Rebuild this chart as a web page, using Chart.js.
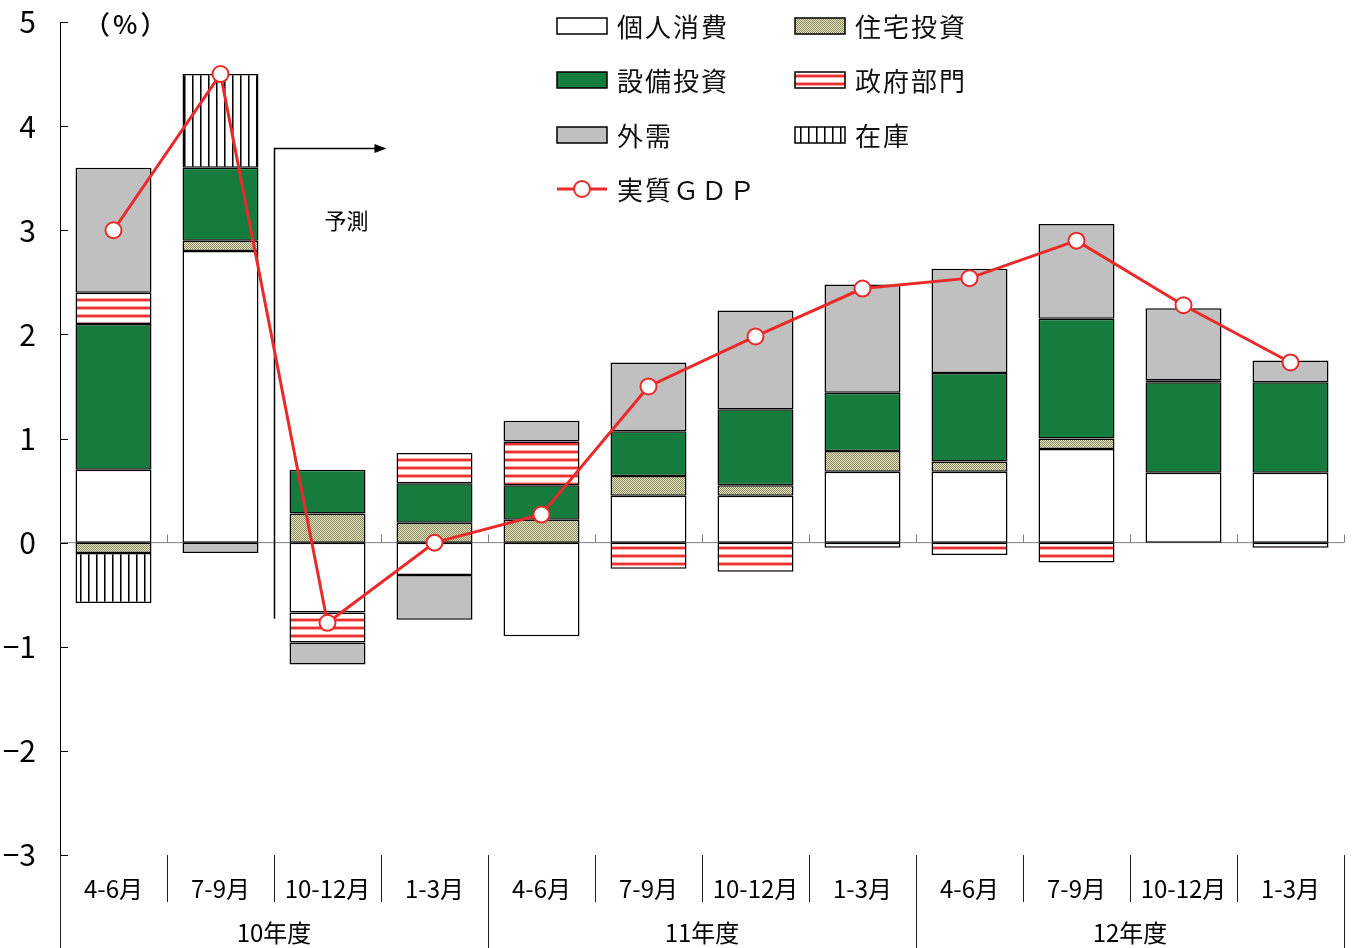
<!DOCTYPE html>
<html>
<head>
<meta charset="utf-8">
<script src="https://cdn.jsdelivr.net/npm/chart.js@4.4.1/dist/chart.umd.min.js"></script>
<style>
  html, body { margin: 0; padding: 0; background: #fff; }
  #wrap { width: 1354px; height: 948px; position: relative; }
</style>
</head>
<body>
<div id="wrap"><canvas id="gdp"></canvas></div>
<script>
    // 四半期と年度
    const quarters = ['4-6月', '7-9月', '10-12月', '1-3月', '4-6月', '7-9月', '10-12月', '1-3月', '4-6月', '7-9月', '10-12月', '1-3月'];
    const fiscalYears = ['10年度', '11年度', '12年度'];
    const yTicks = [-3, -2, -1, 0, 1, 2, 3, 4, 5];

    // 寄与度 (%)
    const consumption = [0.7, 2.8, -0.67, -0.31, -0.9, 0.45, 0.45, 0.68, 0.68, 0.9, 0.67, 0.67];
    const housing     = [-0.1, 0.1, 0.28, 0.19, 0.22, 0.19, 0.1, 0.2, 0.1, 0.1, null, null];
    const equipment   = [1.4, 0.7, 0.42, 0.38, 0.33, 0.43, 0.73, 0.56, 0.85, 1.15, 0.87, 0.87];
    const government  = [0.3, null, -0.29, 0.29, 0.42, -0.25, -0.28, -0.05, -0.12, -0.19, 0.02, -0.05];
    const external    = [1.2, -0.1, -0.21, -0.43, 0.2, 0.66, 0.95, 1.04, 1.0, 0.91, 0.69, 0.21];
    const inventory   = [-0.48, 0.9, null, null, null, null, null, null, null, null, null, null];
    const realGdp     = [3.0, 4.5, -0.77, 0.0, 0.27, 1.5, 1.98, 2.44, 2.54, 2.9, 2.28, 1.73];

    const GREEN = '#157c3e';
    const GRAY = '#c0c0c0';
    const RED = '#ea2a2a';
    const JP = "'Noto Sans CJK JP', sans-serif";
    const NUM = "'Liberation Sans Narrow', 'Noto Sans CJK JP', sans-serif";

    function makePattern(w, h, draw) {
        const c = document.createElement('canvas');
        c.width = w; c.height = h;
        const g = c.getContext('2d');
        draw(g);
        return g.createPattern(c, 'repeat');
    }
    const housingFill = makePattern(2, 2, g => {
        g.fillStyle = '#e0e0c0'; g.fillRect(0, 0, 2, 2);
        g.fillStyle = '#8e8e60'; g.fillRect(0, 0, 1, 1); g.fillRect(1, 1, 1, 1);
    });
    const govFill = makePattern(8, 8, g => {
        g.fillStyle = '#fff'; g.fillRect(0, 0, 8, 8);
        g.fillStyle = '#f6a8a8'; g.fillRect(0, 2, 8, 4);
        g.fillStyle = '#ec3030'; g.fillRect(0, 3, 8, 2);
    });
    const invFill = makePattern(8, 8, g => {
        g.fillStyle = '#fff'; g.fillRect(0, 0, 8, 8);
        g.fillStyle = '#000'; g.fillRect(0, 0, 1, 8);
        g.fillStyle = '#777'; g.fillRect(1, 0, 1, 8);
    });

    function bar(label, data, fill) {
        return {
            label: label, data: data, backgroundColor: fill,
            borderColor: '#000', borderWidth: 1.5, borderSkipped: false,
            stack: 'a', order: 1,
            categoryPercentage: 1, barPercentage: 0.71
        };
    }

    const legendItems = [
        { label: '個人消費', fill: '#fff', col: 0, row: 0 },
        { label: '住宅投資', fill: housingFill, col: 1, row: 0 },
        { label: '設備投資', fill: GREEN, col: 0, row: 1 },
        { label: '政府部門', fill: govFill, col: 1, row: 1 },
        { label: '外需', fill: GRAY, col: 0, row: 2 },
        { label: '在庫', fill: invFill, col: 1, row: 2 }
    ];
    const legendCols = [557, 795];
    const legendRows = [26, 80, 135, 189];

    // 軸・注記・凡例
    const decorations = {
        id: 'decorations',
        beforeDatasetsDraw(chart) {
            const { ctx, chartArea: a, scales: { x, y } } = chart;
            const step = (a.right - a.left) / quarters.length;
            const y0 = y.getPixelForValue(0);
            ctx.save();
            ctx.lineWidth = 1;
            ctx.strokeStyle = '#808080';
            ctx.beginPath();
            ctx.moveTo(a.left, y0); ctx.lineTo(a.right, y0);
            for (let i = 1; i <= quarters.length; i++) {
                const px = Math.round(a.left + i * step) + 0.5;
                ctx.moveTo(px, y0); ctx.lineTo(px, y0 - 8);
            }
            ctx.stroke();
            ctx.strokeStyle = '#000';
            ctx.beginPath();
            yTicks.forEach(v => {
                const py = Math.round(y.getPixelForValue(v)) + 0.5;
                ctx.moveTo(a.left, py); ctx.lineTo(a.left + 8, py);
            });
            ctx.stroke();

            // 予測
            const fx = Math.round(a.left + 2 * step) + 0.5;
            const fTop = Math.round(y.getPixelForValue(3.79)) + 0.5;
            ctx.lineWidth = 1.5;
            ctx.beginPath();
            ctx.moveTo(fx, y.getPixelForValue(-0.73));
            ctx.lineTo(fx, fTop);
            ctx.lineTo(fx + 102, fTop);
            ctx.stroke();
            ctx.fillStyle = '#000';
            ctx.beginPath();
            ctx.moveTo(fx + 112, fTop);
            ctx.lineTo(fx + 100, fTop - 4.5);
            ctx.lineTo(fx + 100, fTop + 4.5);
            ctx.closePath();
            ctx.fill();
            ctx.font = '22px ' + JP;
            ctx.textAlign = 'center';
            ctx.textBaseline = 'middle';
            ctx.fillText('予測', fx + 72, y.getPixelForValue(3.09));
            ctx.restore();
        },
        afterDraw(chart) {
            const { ctx, chartArea: a } = chart;
            const step = (a.right - a.left) / quarters.length;
            ctx.save();
            // 区切り線
            ctx.strokeStyle = '#222';
            ctx.lineWidth = 1;
            ctx.beginPath();
            for (let i = 0; i <= quarters.length; i++) {
                const px = Math.round(a.left + i * step) + 0.5;
                ctx.moveTo(px, a.bottom);
                ctx.lineTo(px, i % 4 === 0 ? chart.height : a.bottom + 47);
            }
            ctx.stroke();

            ctx.fillStyle = '#000';
            ctx.font = '500 26px ' + JP;
            ctx.letterSpacing = '3px';
            ctx.textBaseline = 'middle';
            ctx.textAlign = 'left';
            ctx.fillText('（%）', 84, 24);

            // 凡例
            ctx.font = '26px ' + JP;
            ctx.letterSpacing = '2px';
            legendItems.forEach(it => {
                const lx = legendCols[it.col], ly = legendRows[it.row];
                ctx.fillStyle = it.fill;
                ctx.fillRect(lx, ly - 8, 50, 16);
                ctx.strokeStyle = '#000';
                ctx.lineWidth = 1.5;
                ctx.strokeRect(lx, ly - 8, 50, 16);
                ctx.fillStyle = '#111';
                ctx.fillText(it.label, lx + 60, ly + 1);
            });
            const gx = legendCols[0], gy = legendRows[3];
            ctx.strokeStyle = RED;
            ctx.lineWidth = 3;
            ctx.beginPath(); ctx.moveTo(gx, gy); ctx.lineTo(gx + 50, gy); ctx.stroke();
            ctx.beginPath(); ctx.arc(gx + 25, gy, 8, 0, Math.PI * 2);
            ctx.fillStyle = '#fff'; ctx.fill();
            ctx.lineWidth = 2; ctx.stroke();
            ctx.fillStyle = '#111';
            ctx.fillText('実質ＧＤＰ', gx + 60, gy + 1);
            ctx.restore();
        }
    };

    const ctx = document.getElementById('gdp').getContext('2d');
    const chart = new Chart(ctx, {
        type: 'bar',
        data: {
            labels: quarters,
            datasets: [
                {
                    type: 'line', label: '実質ＧＤＰ', data: realGdp,
                    borderColor: RED, borderWidth: 3, tension: 0,
                    pointRadius: 8, pointBackgroundColor: '#fff',
                    pointBorderColor: RED, pointBorderWidth: 2,
                    stack: 'gdp', order: 0
                },
                bar('個人消費', consumption, '#fff'),
                bar('住宅投資', housing, housingFill),
                bar('設備投資', equipment, GREEN),
                bar('政府部門', government, govFill),
                bar('外需', external, GRAY),
                bar('在庫', inventory, invFill)
            ]
        },
        options: {
            responsive: true,
            maintainAspectRatio: false,
            animation: false,
            layout: { padding: { top: 22, right: 9, left: 0, bottom: 0 } },
            plugins: {
                legend: { display: false },
                tooltip: { enabled: false }
            },
            scales: {
                y: {
                    stacked: true,
                    min: -3, max: 5,
                    afterFit(s) { s.width = 60; s.paddingTop = 0; s.paddingBottom = 0; },
                    border: { display: true, color: '#000', width: 1 },
                    grid: { display: false, drawTicks: false },
                    ticks: {
                        stepSize: 1, padding: 24, color: '#000',
                        font: { size: 30, family: NUM },
                        callback: v => v < 0 ? '−' + Math.abs(v) : String(v)
                    }
                },
                x: {
                    offset: true,
                    afterFit(s) { s.height = 47; },
                    border: { display: false },
                    grid: { display: false, drawTicks: false },
                    ticks: {
                        padding: 19, color: '#000', maxRotation: 0, minRotation: 0,
                        font: { size: 24, family: NUM }
                    }
                },
                x2: {
                    type: 'category',
                    labels: fiscalYears,
                    position: 'bottom',
                    weight: 1,
                    offset: true,
                    afterFit(s) { s.height = 46; },
                    border: { display: false },
                    grid: { display: false, drawTicks: false },
                    ticks: {
                        padding: 16, color: '#000', maxRotation: 0,
                        font: { size: 24, family: NUM }
                    }
                }
            }
        },
        plugins: [decorations]
    });
</script>
</body>
</html>
